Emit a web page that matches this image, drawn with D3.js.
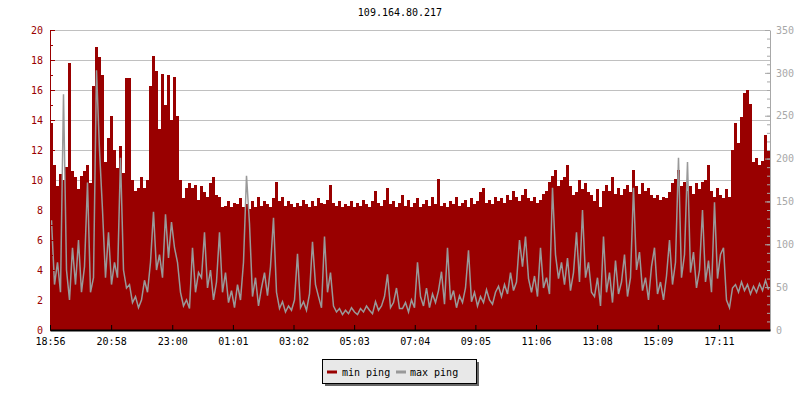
<!DOCTYPE html>
<html><head><meta charset="utf-8">
<script src="https://cdn.jsdelivr.net/npm/d3@7"></script>
<style>
html,body{margin:0;padding:0;background:#fff;}
text{font-family:"DejaVu Sans Mono",monospace;font-size:10px;}
</style></head>
<body>
<svg id="chart" width="800" height="400"></svg>
<script>
// ---------- data ----------
const chartTitle = "109.164.80.217";
const startTime = "18:56";
const endTime = "18:53";          // next day
const tickLabels = ["18:56","20:58","23:00","01:01","03:02","05:03","07:04","09:05","11:06","13:08","15:09","17:11"];
const seriesNames = ["min ping","max ping"];
const leftTicks = [0,2,4,6,8,10,12,14,16,18,20];
const rightTicks = [0,50,100,150,200,250,300,350];

// min ping (left axis, red bars)
const minPing = [
13.8,11.0,9.6,10.4,10.0,10.9,17.8,10.6,10.2,9.4,10.3,10.6,11.0,9.8,16.3,18.9,18.2,17.0,11.2,12.8,14.3,12.0,10.8,12.3,
10.5,16.8,16.8,10.0,9.3,9.5,10.2,9.5,10.0,16.3,18.3,17.3,13.4,17.1,15.0,17.0,14.0,16.9,14.3,10.0,8.8,9.5,9.8,9.5,9.7,8.7,
9.6,9.2,8.9,9.8,10.2,9.0,8.9,8.2,8.3,8.6, 8.2,8.5,8.4,8.8,8.2,8.4,8.1,8.6,8.2,8.9,
8.3,8.6,8.4,8.2,8.8,9.9,8.6,8.9,8.3,8.6, 8.4,8.2,8.5,8.3,8.7,8.4,8.2,8.6,8.3,8.8,
8.5,8.4,8.7,9.7,8.5,8.3,8.6,8.2,8.4,8.3, 8.6,8.2,8.5,8.3,8.7,8.4,8.2,8.6,9.3,8.5,
8.3,8.7,9.5,8.4,8.6,8.2,8.5,
9.0,8.3,8.7,8.2,8.5,8.8,8.2,8.4,8.7,8.3, 8.9,8.4,10.1,8.3,8.5,8.2,8.6,8.4,8.9,8.3,
8.5,8.7,8.2,8.8,8.4,8.6,9.2,9.5,8.5,8.7, 8.4,8.9,8.6,8.8,8.5,9.0,8.7,9.3,8.9,8.6,
9.0,9.4,8.8,8.6,8.9,8.5,8.7,9.1,9.3,9.9, 10.3,10.7,9.6,10.0,10.2,11.0,9.6,9.0,9.2,10.0,
9.4,9.8,9.2,9.0,
8.6,9.4,8.2,9.3,9.7,9.3,10.2,9.1,9.5,9.0, 9.4,9.7,9.2,10.7,9.6,9.1,9.8,9.3,9.5,9.0,
8.8,9.0,8.7,8.9,8.8,9.2,9.8,10.1,10.7,9.6, 9.9,9.3,9.6,9.1,9.8,9.4,9.9,10.0,11.0,9.3,
8.9,9.5,9.0,8.8,9.4,8.9,12.0,13.8,12.5,14.2, 15.8,16.0,15.1,11.2,11.5,11.0,11.3,13.0,12.0
];

// max ping (right axis, grey line)
const maxPing = [
128,53,79,44,275,70,35,96,53,105,44,74,172,44,61,303,210,140,61,114,53,79,61,201,
70,49,53,32,39,26,35,58,44,79,138,70,88,61,135,84,126,96,79,44,28,35,25,96,44,67,
61,114,49,70,35,56,114,44,67,32, 46,26,53,35,79,180,124,39,61,28,
49,67,40,74,131,44,25,33,21,28, 23,35,89,26,33,23,42,103,53,39,
26,109,44,67,28,21,25,18,23,19, 26,21,18,25,21,28,23,19,33,23,
28,39,65,26,32,49,25,
25,32,21,35,26,79,39,28,49,26, 42,32,46,68,30,96,35,46,26,40,
32,49,93,33,44,28,39,32,47,35, 30,44,51,39,53,42,67,46,56,105,
74,109,60,44,63,39,96,49,61,42, 166,88,60,79,53,84,46,67,114,56,
140,61,79,44,
39,61,28,109,44,67,32,81,42,56, 88,39,61,166,70,91,46,61,35,74,
96,42,56,35,63,105,53,79,201,61, 88,196,67,91,49,70,140,56,81,44,
149,60,88,96,35,26,49,53,44,56, 46,53,42,51,44,54,46,58,47
];

// ---------- layout ----------
const RED = "#990000", GREY = "#999999", AXGREY = "#a8a8a8";
const svg = d3.select("#chart");
const L = 50, R = 770, T = 30, B = 330;

const parseHM = d3.timeParse("%Y-%m-%d %H:%M");
const t0 = parseHM("2000-01-01 " + startTime);
const t1 = parseHM("2000-01-02 " + endTime);
const x = d3.scaleTime().domain([t0, t1]).range([L, R]);
const N = minPing.length;
const step = (t1 - t0) / N;
const times = d3.range(N).map(i => new Date(+t0 + i * step));

const yL = d3.scaleLinear().domain([0, 20]).range([B, T]);
const yR = d3.scaleLinear().domain([0, 350]).range([B, T]);

// title
svg.append("text").attr("x", 400).attr("y", 16).attr("text-anchor", "middle")
  .attr("fill", "#000").text(chartTitle);

// gridlines
svg.append("g").selectAll("line").data(leftTicks.filter(d => d > 0)).join("line")
  .attr("x1", L).attr("x2", R)
  .attr("y1", d => Math.round(yL(d)) + 0.5).attr("y2", d => Math.round(yL(d)) + 0.5)
  .attr("stroke", "#c0c0c0").attr("stroke-width", 1);

// red bars
svg.append("g").attr("shape-rendering", "crispEdges").selectAll("rect")
  .data(minPing).join("rect")
  .attr("x", (d, i) => x(times[i]))
  .attr("width", (d, i) => x(new Date(+times[i] + step)) - x(times[i]) + 0.3)
  .attr("y", d => yL(d))
  .attr("height", d => yL(0) - yL(d))
  .attr("fill", RED);

// grey line
const line = d3.line()
  .x((d, i) => x(times[i]) + (x(new Date(+times[i] + step)) - x(times[i])) / 2)
  .y(d => yR(d));
svg.append("path").datum(maxPing).attr("d", line)
  .attr("fill", "none").attr("stroke", GREY).attr("stroke-width", 1.5)
  .attr("stroke-linejoin", "miter");

// left axis
const gl = svg.append("g").attr("transform", `translate(${L},0)`);
gl.call(d3.axisLeft(yL).tickValues(d3.range(0, 21, 1)).tickSize(-3).tickFormat(""));
gl.selectAll(".tick line").attr("stroke", RED);
gl.select(".domain").remove();
const gl2 = svg.append("g").attr("transform", `translate(${L},0)`);
gl2.call(d3.axisLeft(yL).tickValues(leftTicks).tickSize(-5).tickSizeOuter(0).tickPadding(7).tickFormat(d3.format("d")));
gl2.selectAll(".tick line").attr("stroke", RED);
gl2.selectAll("text").attr("fill", RED).style("font-size", "10px").style("font-family", '"DejaVu Sans Mono",monospace');
gl2.select(".domain").attr("stroke", RED);

// right axis
const gr = svg.append("g").attr("transform", `translate(${R},0)`);
gr.call(d3.axisRight(yR).tickValues(d3.range(0, 351, 10)).tickSize(-3).tickFormat(""));
gr.selectAll(".tick line").attr("stroke", AXGREY);
gr.select(".domain").remove();
const gr2 = svg.append("g").attr("transform", `translate(${R},0)`);
gr2.call(d3.axisRight(yR).tickValues(rightTicks).tickSize(-5).tickSizeOuter(0).tickPadding(6).tickFormat(d3.format("d")));
gr2.selectAll(".tick line").attr("stroke", AXGREY);
gr2.select(".domain").attr("stroke", AXGREY);
gr2.selectAll("text").attr("fill", AXGREY).style("font-size", "10px").style("font-family", '"DejaVu Sans Mono",monospace');

// x axis
const tickTimes = tickLabels.map(s => {
  let d = parseHM("2000-01-01 " + s);
  if (d < t0) d = parseHM("2000-01-02 " + s);
  return d;
});
const gx = svg.append("g").attr("transform", `translate(0,${B})`);
gx.call(d3.axisBottom(x).tickValues(tickTimes).tickSize(-5).tickSizeOuter(0).tickPadding(8).tickFormat(d3.timeFormat("%H:%M")));
gx.selectAll(".tick line").attr("stroke", "#000");
gx.select(".domain").attr("stroke", "#000").attr("stroke-width", 2);
gx.selectAll("text").attr("fill", "#000").style("font-size", "10px").style("font-family", '"DejaVu Sans Mono",monospace');

// legend
const lg = svg.append("g");
lg.append("rect").attr("x", 325).attr("y", 362).attr("width", 154).attr("height", 24).attr("fill", "#666");
lg.append("rect").attr("x", 322.5).attr("y", 359.5).attr("width", 154).attr("height", 24)
  .attr("fill", "#e8e8e8").attr("stroke", "#000").attr("stroke-width", 1);
const legendItems = [
  {name: seriesNames[0], color: RED, lx: 327, tx: 342},
  {name: seriesNames[1], color: GREY, lx: 396, tx: 410}
];
legendItems.forEach(it => {
  lg.append("line").attr("x1", it.lx).attr("x2", it.lx + 10).attr("y1", 372).attr("y2", 372)
    .attr("stroke", it.color).attr("stroke-width", 3);
  lg.append("text").attr("x", it.tx).attr("y", 375.5).attr("fill", "#000").text(it.name);
});
</script>
</body></html>
